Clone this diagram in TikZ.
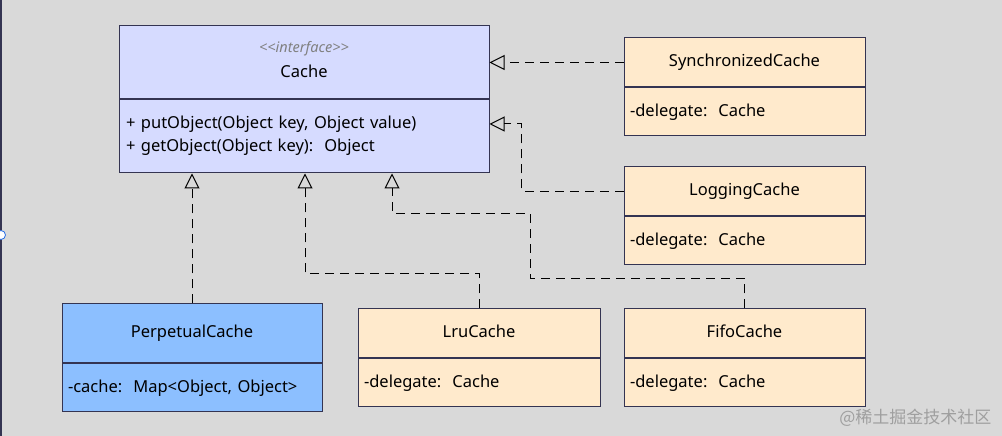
\documentclass[tikz,border=0pt]{standalone}
\usepackage{fontspec}
\setmainfont{Noto Sans}
\newfontfamily\cjk{Noto Sans CJK SC}
\usetikzlibrary{positioning, arrows.meta}
\definecolor{bggray}{RGB}{217,217,217}
\definecolor{boxline}{RGB}{52,52,82}
\definecolor{lavender}{RGB}{214,219,255}
\definecolor{peach}{RGB}{255,234,204}
\definecolor{skyblue}{RGB}{140,191,255}
\definecolor{handle}{RGB}{40,110,230}
\tikzset{
	classhead/.style={draw=boxline, rectangle, line width=1pt, inner sep=2pt, minimum width=241pt, minimum height=49pt, fill=peach, font=\fontsize{16.5}{19}\selectfont},
	classbody/.style={draw=boxline, rectangle, line width=1pt, inner xsep=6pt, inner ysep=2pt, text width=229pt, align=left, minimum height=48pt, fill=peach, font=\fontsize{16.5}{19}\selectfont},
	% dashed realization arrow with hollow head
	impl/.style={draw=black, line width=1pt, dash pattern=on 9pt off 6pt, -{Triangle[open, length=15pt, width=15pt]}},
}

\begin{document}
\begin{tikzpicture}[x=1pt, y=1pt]
	\fill[bggray] (0,0) rectangle (1002,436);
	\useasboundingbox (0,0) rectangle (1002,436);
	\draw[boxline, line width=2pt] (1,0) -- (1,436);
	\draw[handle, fill=white, line width=0.8pt] (1,201) circle (4.5);
	
	\node (cache) [classhead, fill=lavender, minimum width=370pt, minimum height=73pt, align=center] at (304,373.5) {{\color{gray}\fontsize{14.5}{17}\selectfont\itshape <{}<interface>{}>}\\[6pt]Cache\strut};
	\node (cacheops) [classbody, fill=lavender, text width=356pt, inner xsep=7pt, minimum height=73pt, below=0pt of cache] {+ putObject(Object key, Object value)\\[4pt]+ getObject(Object key):\ \ Object\strut};
	
	\node (sync) [classhead] at (744.5,373.5) {SynchronizedCache\strut};
	\node (syncattr) [classbody, below=0pt of sync] {-delegate:\ \ Cache};
	
	\node (logging) [classhead] at (744.5,244.5) {LoggingCache\strut};
	\node (loggingattr) [classbody, below=0pt of logging] {-delegate:\ \ Cache};
	
	\node (perpetual) [classhead, fill=skyblue, minimum width=260pt, minimum height=59pt] at (192,102.5) {PerpetualCache\strut};
	\node (perpetualattr) [classbody, fill=skyblue, text width=248pt, below=0pt of perpetual] {-cache:\ \ Map<Object, Object>};
	
	\node (lru) [classhead, minimum width=242pt] at (479,102.5) {LruCache\strut};
	\node (lruattr) [classbody, text width=230pt, below=0pt of lru] {-delegate:\ \ Cache};
	
	\node (fifo) [classhead] at (744.5,102.5) {FifoCache\strut};
	\node (fifoattr) [classbody, below=0pt of fifo] {-delegate:\ \ Cache};
	
	\node (mark) [text=gray!75, font=\cjk\fontsize{17}{19}\selectfont, anchor=east] at (995,18) {@稀土掘金技术社区};
	
	\draw[impl] (sync.west) -- (sync.west -| cache.east);
	\draw[impl] (logging.west) -- ++(-102,0) |- ([yshift=12.5pt]cacheops.east);
	\draw[impl] (perpetual.north) -- (perpetual.north |- cacheops.south);
	\draw[impl] (lru.north) -- ++(0,35) -| ([xshift=1pt]cacheops.south);
	\draw[impl] (fifo.north) -- ++(0,30) -- ++(-214.5,0) -- ++(0,65) -| ([xshift=88pt]cacheops.south);
	
\end{tikzpicture}
\end{document}
